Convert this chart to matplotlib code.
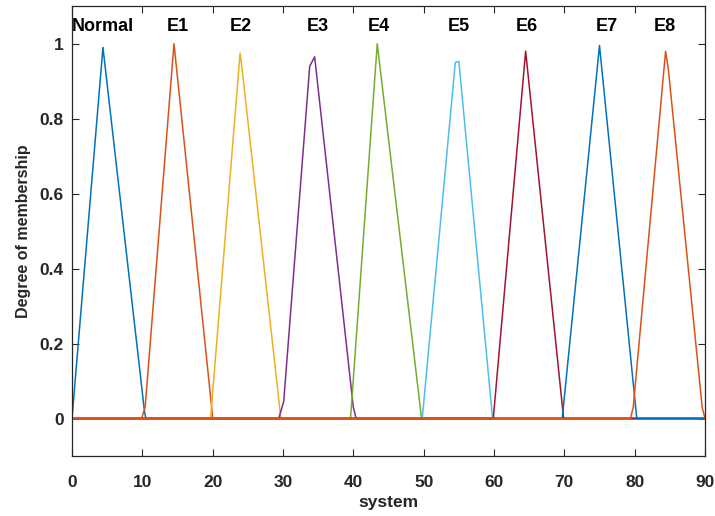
import numpy as np
import matplotlib
matplotlib.use("Agg")
import matplotlib.pyplot as plt

# ---------- membership functions (vertices) ----------
names = ["Normal", "E1", "E2", "E3", "E4", "E5", "E6", "E7", "E8"]

mf_x = [
    [0, 4.4, 10.3, 10.5, 90],
    [0, 9.9, 10.4, 14.5, 19.8, 20.0, 90],
    [0, 19.7, 23.9, 24.2, 29.7, 90],
    [0, 29.4, 30.1, 33.8, 34.5, 40.0, 40.4, 90],
    [0, 39.6, 43.4, 49.7, 90],
    [0, 49.8, 54.5, 55.0, 59.8, 90],
    [0, 59.9, 64.5, 69.9, 90],
    [0, 69.7, 75.0, 80.3, 90],
    [0, 79.4, 79.8, 84.4, 84.8, 89.6, 90],
]
mf_y = [
    [0, 0.99, 0.02, 0, 0],
    [0, 0, 0.03, 1.0, 0.04, 0, 0],
    [0, 0, 0.975, 0.93, 0, 0],
    [0, 0, 0.045, 0.94, 0.965, 0.03, 0, 0],
    [0, 0, 1.0, 0, 0],
    [0, 0, 0.95, 0.953, 0, 0],
    [0, 0, 0.98, 0, 0],
    [0, 0, 0.995, 0, 0],
    [0, 0, 0.03, 0.98, 0.93, 0.03, 0],
]
label_x = [4.4, 15.0, 24.0, 35.0, 43.6, 55.0, 64.6, 76.0, 84.3]

colors = ["#0072BD", "#D95319", "#EDB120", "#7E2F8E", "#77AC30",
          "#4DBEEE", "#A2142F", "#0072BD", "#D95319"]

# ---------- plot ----------
plt.rcParams['font.family'] = ['Liberation Sans', 'DejaVu Sans']
fig = plt.figure(figsize=(7.15, 5.16), dpi=100)
ax = fig.add_axes([0.1007, 0.1163, 0.8853, 0.8717])

for xs, ys, c in zip(mf_x, mf_y, colors):
    ax.plot(xs, ys, color=c, lw=1.1)

for name, lx in zip(names, label_x):
    ax.text(lx, 1.045, name, ha='center', va='center',
            fontsize=13, fontweight='bold', color='black')

ax.set_xlim(0, 90)
ax.set_ylim(-0.1, 1.1)
ax.set_xticks(np.arange(0, 91, 10))
ax.set_yticks([0, 0.2, 0.4, 0.6, 0.8, 1])
ax.set_yticklabels(["0", "0.2", "0.4", "0.6", "0.8", "1"])

ax.tick_params(direction='in', length=5, width=0.8, top=True, right=True,
               colors='#262626', labelsize=12.5)
ax.tick_params(axis='x', pad=14)
ax.tick_params(axis='y', pad=6)
for lab in ax.get_xticklabels() + ax.get_yticklabels():
    lab.set_fontweight('bold')
for sp in ax.spines.values():
    sp.set_color('#262626')
    sp.set_linewidth(0.9)

ax.set_xlabel('system', fontsize=12.5, fontweight='bold', color='#262626', labelpad=3)
ax.set_ylabel('Degree of membership', fontsize=11.5, fontweight='bold',
              color='#262626', labelpad=6)

fig.savefig('out.png', dpi=100, facecolor='white')
